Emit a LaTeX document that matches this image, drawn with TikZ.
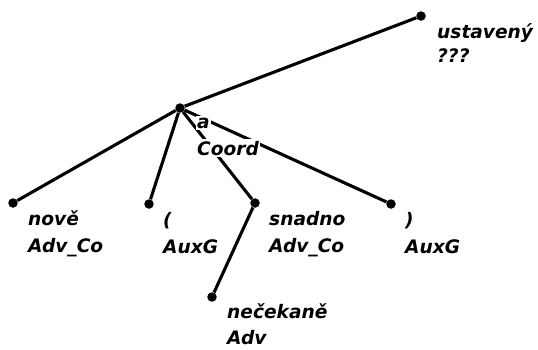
\documentclass[tikz,border=0pt]{standalone}
\usepackage{fontspec}
\setsansfont{DejaVu Sans}
\usepackage{tikz}

\begin{document}
\begin{tikzpicture}[x=1pt,y=-1pt,
  dot/.style={circle,fill,inner sep=0pt,minimum size=9.5pt},
  edge/.style={line width=3.1pt},
  lbl/.style={anchor=base west,fill=white,inner xsep=1pt,inner ysep=2pt,
    font=\sffamily\bfseries\itshape\fontsize{18.6}{20}\selectfont}]
  \useasboundingbox (0,0) rectangle (538,349);
  % tree nodes
  \node[dot] (ustaveny) at (421,16) {};
  \node[dot] (coord) at (180,108) {};
  \node[dot] (nove) at (13,203) {};
  \node[dot] (lpar) at (149,204) {};
  \node[dot] (snadno) at (255,203) {};
  \node[dot] (rpar) at (391,204) {};
  \node[dot] (necekane) at (212,297) {};
  % edges
  \draw[edge] (ustaveny) -- (coord);
  \draw[edge] (coord) -- (nove);
  \draw[edge] (coord) -- (lpar);
  \draw[edge] (coord) -- (snadno);
  \draw[edge] (coord) -- (rpar);
  \draw[edge] (snadno) -- (necekane);
  % labels
  \node[lbl] (ustavenyW) at ([shift={(15,22)}]ustaveny.center) {ustavený};
  \node[lbl] (ustavenyT) at ([yshift=-24pt]ustavenyW.base west) {???};
  \node[lbl] (coordW) at ([shift={(16,20)}]coord.center) {a};
  \node[lbl] (coordT) at ([yshift=-27pt]coordW.base west) {Coord};
  \node[lbl] (noveW) at ([shift={(14,22)}]nove.center) {nově};
  \node[lbl] (noveT) at ([yshift=-27pt]noveW.base west) {Adv\_Co};
  \node[lbl] (lparW) at ([shift={(13,22)}]lpar.center) {(};
  \node[lbl] (lparT) at ([yshift=-27pt]lparW.base west) {AuxG};
  \node[lbl] (snadnoW) at ([shift={(13,22)}]snadno.center) {snadno};
  \node[lbl] (snadnoT) at ([yshift=-27pt]snadnoW.base west) {Adv\_Co};
  \node[lbl] (rparW) at ([shift={(13,22)}]rpar.center) {)};
  \node[lbl] (rparT) at ([yshift=-27pt]rparW.base west) {AuxG};
  \node[lbl] (necekaneW) at ([shift={(14,21)}]necekane.center) {nečekaně};
  \node[lbl] (necekaneT) at ([yshift=-26pt]necekaneW.base west) {Adv};
\end{tikzpicture}
\end{document}
